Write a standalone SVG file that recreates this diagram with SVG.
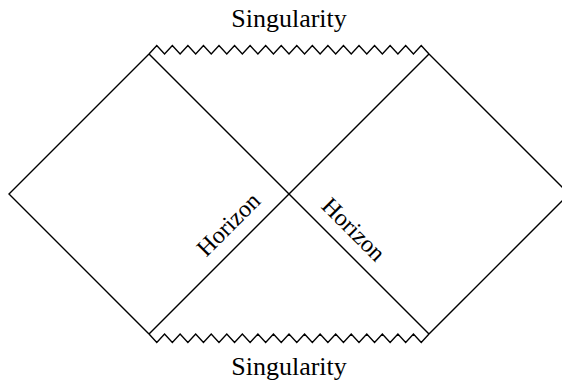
<svg xmlns="http://www.w3.org/2000/svg" width="562" height="383" viewBox="0 0 562 383">
  <style>
    .ln { fill: none; stroke: #000; stroke-width: 1.4; stroke-linejoin: miter; }
    .lbl { font-family: "Liberation Serif", "Times New Roman", serif; font-size: 24px; fill: #000; text-anchor: middle; }
    .sg { font-size: 26px; }
  </style>
  <rect width="562" height="383" fill="#fff"/>
  <g id="regions">
    <path class="ln" d="M149 54 L9 194 L149 334"/>
    <path class="ln" d="M429 54 L569 194 L429 334"/>
    <path class="ln" d="M149 54 L429 334"/>
    <path class="ln" d="M429 54 L149 334"/>
  </g>
  <g id="singularity-top">
    <path class="ln" d="M149 54 l7.778 -8.5 7.778 8.5 l7.778 -8.5 7.778 8.5 l7.778 -8.5 7.778 8.5 l7.778 -8.5 7.778 8.5 l7.778 -8.5 7.778 8.5 l7.778 -8.5 7.778 8.5 l7.778 -8.5 7.778 8.5 l7.778 -8.5 7.778 8.5 l7.778 -8.5 7.778 8.5 l7.778 -8.5 7.778 8.5 l7.778 -8.5 7.778 8.5 l7.778 -8.5 7.778 8.5 l7.778 -8.5 7.778 8.5 l7.778 -8.5 7.778 8.5 l7.778 -8.5 7.778 8.5 l7.778 -8.5 7.778 8.5 l7.778 -8.5 7.778 8.5 l7.778 -8.5 7.778 8.5"/>
    <text class="lbl sg" x="289" y="27">Singularity</text>
  </g>
  <g id="singularity-bottom">
    <path class="ln" d="M149 334 l7.778 8.5 7.778 -8.5 l7.778 8.5 7.778 -8.5 l7.778 8.5 7.778 -8.5 l7.778 8.5 7.778 -8.5 l7.778 8.5 7.778 -8.5 l7.778 8.5 7.778 -8.5 l7.778 8.5 7.778 -8.5 l7.778 8.5 7.778 -8.5 l7.778 8.5 7.778 -8.5 l7.778 8.5 7.778 -8.5 l7.778 8.5 7.778 -8.5 l7.778 8.5 7.778 -8.5 l7.778 8.5 7.778 -8.5 l7.778 8.5 7.778 -8.5 l7.778 8.5 7.778 -8.5 l7.778 8.5 7.778 -8.5 l7.778 8.5 7.778 -8.5 l7.778 8.5 7.778 -8.5"/>
    <text class="lbl sg" x="289" y="375">Singularity</text>
  </g>
  <g id="horizon-left">
    <text class="lbl" transform="translate(234 230) rotate(-45)">Horizon</text>
  </g>
  <g id="horizon-right">
    <text class="lbl" transform="translate(348 235) rotate(45)">Horizon</text>
  </g>
</svg>
